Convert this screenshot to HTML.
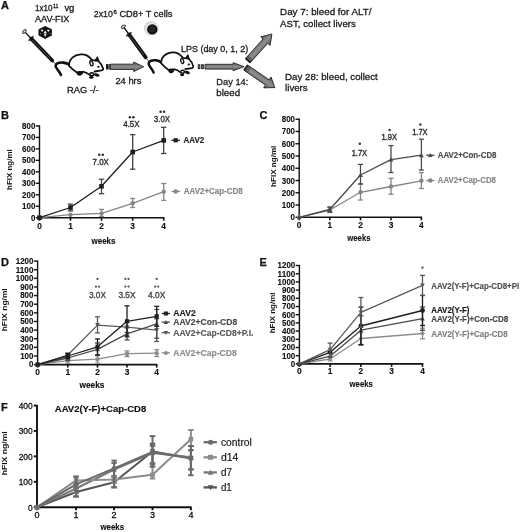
<!DOCTYPE html>
<html><head><meta charset="utf-8"><style>
html,body{margin:0;padding:0;background:#fff;}
svg{display:block;font-family:"Liberation Sans", sans-serif;will-change:transform;}
</style></head><body>
<svg width="520" height="532" viewBox="0 0 520 532">
<rect width="520" height="532" fill="#fff"/>
<text x="1.00" y="9.30" font-size="11" font-weight="bold" fill="#111" text-anchor="start" stroke="#111" stroke-width="0.25" >A</text>
<text x="1.00" y="119.00" font-size="11" font-weight="bold" fill="#111" text-anchor="start" stroke="#111" stroke-width="0.25" >B</text>
<text x="259.60" y="118.70" font-size="11" font-weight="bold" fill="#111" text-anchor="start" stroke="#111" stroke-width="0.25" >C</text>
<text x="1.00" y="266.30" font-size="11" font-weight="bold" fill="#111" text-anchor="start" stroke="#111" stroke-width="0.25" >D</text>
<text x="259.50" y="265.80" font-size="11" font-weight="bold" fill="#111" text-anchor="start" stroke="#111" stroke-width="0.25" >E</text>
<text x="1.00" y="410.50" font-size="11" font-weight="bold" fill="#111" text-anchor="start" stroke="#111" stroke-width="0.25" >F</text>
<line x1="39.50" y1="125.34" x2="39.50" y2="218.30" stroke="#111" stroke-width="1.4" />
<line x1="35.80" y1="217.70" x2="39.50" y2="217.70" stroke="#111" stroke-width="1.4" />
<text x="35.30" y="220.70" font-size="8.4" font-weight="bold" fill="#111" text-anchor="end" textLength="4.4" lengthAdjust="spacingAndGlyphs" stroke="#111" stroke-width="0.12" >0</text>
<line x1="35.80" y1="206.23" x2="39.50" y2="206.23" stroke="#111" stroke-width="1.4" />
<text x="35.30" y="209.23" font-size="8.4" font-weight="bold" fill="#111" text-anchor="end" textLength="13.2" lengthAdjust="spacingAndGlyphs" stroke="#111" stroke-width="0.12" >100</text>
<line x1="35.80" y1="194.76" x2="39.50" y2="194.76" stroke="#111" stroke-width="1.4" />
<text x="35.30" y="197.76" font-size="8.4" font-weight="bold" fill="#111" text-anchor="end" textLength="13.2" lengthAdjust="spacingAndGlyphs" stroke="#111" stroke-width="0.12" >200</text>
<line x1="35.80" y1="183.29" x2="39.50" y2="183.29" stroke="#111" stroke-width="1.4" />
<text x="35.30" y="186.29" font-size="8.4" font-weight="bold" fill="#111" text-anchor="end" textLength="13.2" lengthAdjust="spacingAndGlyphs" stroke="#111" stroke-width="0.12" >300</text>
<line x1="35.80" y1="171.82" x2="39.50" y2="171.82" stroke="#111" stroke-width="1.4" />
<text x="35.30" y="174.82" font-size="8.4" font-weight="bold" fill="#111" text-anchor="end" textLength="13.2" lengthAdjust="spacingAndGlyphs" stroke="#111" stroke-width="0.12" >400</text>
<line x1="35.80" y1="160.35" x2="39.50" y2="160.35" stroke="#111" stroke-width="1.4" />
<text x="35.30" y="163.35" font-size="8.4" font-weight="bold" fill="#111" text-anchor="end" textLength="13.2" lengthAdjust="spacingAndGlyphs" stroke="#111" stroke-width="0.12" >500</text>
<line x1="35.80" y1="148.88" x2="39.50" y2="148.88" stroke="#111" stroke-width="1.4" />
<text x="35.30" y="151.88" font-size="8.4" font-weight="bold" fill="#111" text-anchor="end" textLength="13.2" lengthAdjust="spacingAndGlyphs" stroke="#111" stroke-width="0.12" >600</text>
<line x1="35.80" y1="137.41" x2="39.50" y2="137.41" stroke="#111" stroke-width="1.4" />
<text x="35.30" y="140.41" font-size="8.4" font-weight="bold" fill="#111" text-anchor="end" textLength="13.2" lengthAdjust="spacingAndGlyphs" stroke="#111" stroke-width="0.12" >700</text>
<line x1="35.80" y1="125.94" x2="39.50" y2="125.94" stroke="#111" stroke-width="1.4" />
<text x="35.30" y="128.94" font-size="8.4" font-weight="bold" fill="#111" text-anchor="end" textLength="13.2" lengthAdjust="spacingAndGlyphs" stroke="#111" stroke-width="0.12" >800</text>
<line x1="38.80" y1="217.70" x2="164.40" y2="217.70" stroke="#111" stroke-width="1.6" />
<line x1="39.50" y1="217.70" x2="39.50" y2="220.70" stroke="#111" stroke-width="1.6" />
<text x="39.50" y="228.50" font-size="8.4" font-weight="bold" fill="#111" text-anchor="middle" stroke="#111" stroke-width="0.12" >0</text>
<line x1="70.50" y1="217.70" x2="70.50" y2="220.70" stroke="#111" stroke-width="1.6" />
<text x="70.50" y="228.50" font-size="8.4" font-weight="bold" fill="#111" text-anchor="middle" stroke="#111" stroke-width="0.12" >1</text>
<line x1="101.50" y1="217.70" x2="101.50" y2="220.70" stroke="#111" stroke-width="1.6" />
<text x="101.50" y="228.50" font-size="8.4" font-weight="bold" fill="#111" text-anchor="middle" stroke="#111" stroke-width="0.12" >2</text>
<line x1="132.70" y1="217.70" x2="132.70" y2="220.70" stroke="#111" stroke-width="1.6" />
<text x="132.70" y="228.50" font-size="8.4" font-weight="bold" fill="#111" text-anchor="middle" stroke="#111" stroke-width="0.12" >3</text>
<line x1="163.70" y1="217.70" x2="163.70" y2="220.70" stroke="#111" stroke-width="1.6" />
<text x="163.70" y="228.50" font-size="8.4" font-weight="bold" fill="#111" text-anchor="middle" stroke="#111" stroke-width="0.12" >4</text>
<text x="103.50" y="243.70" font-size="8.4" font-weight="bold" fill="#111" text-anchor="middle" textLength="24" lengthAdjust="spacingAndGlyphs" stroke="#111" stroke-width="0.12" >weeks</text>
<text x="0" y="0" font-size="7.6" font-weight="bold" fill="#111" text-anchor="middle" textLength="40.6" lengthAdjust="spacingAndGlyphs" transform="translate(11.80,169.60) rotate(-90)">hFIX ng/ml</text>
<line x1="101.50" y1="209.40" x2="101.50" y2="216.50" stroke="#858585" stroke-width="1.3" />
<line x1="99.00" y1="209.40" x2="104.00" y2="209.40" stroke="#858585" stroke-width="1.3" />
<line x1="99.00" y1="216.50" x2="104.00" y2="216.50" stroke="#858585" stroke-width="1.3" />
<line x1="132.70" y1="198.50" x2="132.70" y2="207.50" stroke="#858585" stroke-width="1.3" />
<line x1="130.20" y1="198.50" x2="135.20" y2="198.50" stroke="#858585" stroke-width="1.3" />
<line x1="130.20" y1="207.50" x2="135.20" y2="207.50" stroke="#858585" stroke-width="1.3" />
<line x1="163.70" y1="183.50" x2="163.70" y2="200.40" stroke="#858585" stroke-width="1.3" />
<line x1="161.20" y1="183.50" x2="166.20" y2="183.50" stroke="#858585" stroke-width="1.3" />
<line x1="161.20" y1="200.40" x2="166.20" y2="200.40" stroke="#858585" stroke-width="1.3" />
<polyline points="39.50,217.70 70.50,214.70 101.50,213.40 132.70,203.30 163.70,191.70" fill="none" stroke="#858585" stroke-width="1.3" stroke-linejoin="round"/>
<circle cx="39.50" cy="217.70" r="2.20" fill="#858585"/>
<circle cx="70.50" cy="214.70" r="2.20" fill="#858585"/>
<circle cx="101.50" cy="213.40" r="2.20" fill="#858585"/>
<circle cx="132.70" cy="203.30" r="2.20" fill="#858585"/>
<circle cx="163.70" cy="191.70" r="2.20" fill="#858585"/>
<line x1="70.50" y1="204.10" x2="70.50" y2="210.90" stroke="#444" stroke-width="1.3" />
<line x1="67.80" y1="204.10" x2="73.20" y2="204.10" stroke="#444" stroke-width="1.3" />
<line x1="67.80" y1="210.90" x2="73.20" y2="210.90" stroke="#444" stroke-width="1.3" />
<line x1="101.50" y1="179.20" x2="101.50" y2="193.70" stroke="#444" stroke-width="1.3" />
<line x1="98.80" y1="179.20" x2="104.20" y2="179.20" stroke="#444" stroke-width="1.3" />
<line x1="98.80" y1="193.70" x2="104.20" y2="193.70" stroke="#444" stroke-width="1.3" />
<line x1="132.70" y1="134.60" x2="132.70" y2="169.20" stroke="#444" stroke-width="1.3" />
<line x1="130.00" y1="134.60" x2="135.40" y2="134.60" stroke="#444" stroke-width="1.3" />
<line x1="130.00" y1="169.20" x2="135.40" y2="169.20" stroke="#444" stroke-width="1.3" />
<line x1="163.70" y1="127.30" x2="163.70" y2="153.50" stroke="#444" stroke-width="1.3" />
<line x1="161.00" y1="127.30" x2="166.40" y2="127.30" stroke="#444" stroke-width="1.3" />
<line x1="161.00" y1="153.50" x2="166.40" y2="153.50" stroke="#444" stroke-width="1.3" />
<polyline points="39.50,217.70 70.50,207.50 101.50,186.30 132.70,152.00 163.70,140.40" fill="none" stroke="#1e1e1e" stroke-width="1.3" stroke-linejoin="round"/>
<rect x="37.20" y="215.40" width="4.60" height="4.60" fill="#1e1e1e"/>
<rect x="68.20" y="205.20" width="4.60" height="4.60" fill="#1e1e1e"/>
<rect x="99.20" y="184.00" width="4.60" height="4.60" fill="#1e1e1e"/>
<rect x="130.40" y="149.70" width="4.60" height="4.60" fill="#1e1e1e"/>
<rect x="161.40" y="138.10" width="4.60" height="4.60" fill="#1e1e1e"/>
<circle cx="99.25" cy="154.80" r="1.25" fill="#2a2a2a"/>
<circle cx="102.75" cy="154.80" r="1.25" fill="#2a2a2a"/>
<text x="100.70" y="165.40" font-size="9" font-weight="normal" fill="#333" text-anchor="middle" textLength="16.3" lengthAdjust="spacingAndGlyphs" stroke="#333" stroke-width="0.4" >7.0X</text>
<circle cx="129.95" cy="117.30" r="1.25" fill="#2a2a2a"/>
<circle cx="133.45" cy="117.30" r="1.25" fill="#2a2a2a"/>
<text x="131.40" y="127.30" font-size="9" font-weight="normal" fill="#333" text-anchor="middle" textLength="16.3" lengthAdjust="spacingAndGlyphs" stroke="#333" stroke-width="0.4" >4.5X</text>
<circle cx="160.55" cy="111.80" r="1.25" fill="#2a2a2a"/>
<circle cx="164.05" cy="111.80" r="1.25" fill="#2a2a2a"/>
<text x="162.00" y="121.70" font-size="9" font-weight="normal" fill="#333" text-anchor="middle" textLength="16.3" lengthAdjust="spacingAndGlyphs" stroke="#333" stroke-width="0.4" >3.0X</text>
<line x1="171.50" y1="140.30" x2="180.00" y2="140.30" stroke="#1e1e1e" stroke-width="1.3" />
<rect x="173.60" y="138.20" width="4.20" height="4.20" fill="#1e1e1e"/>
<text x="183.50" y="143.20" font-size="8.8" font-weight="bold" fill="#1e1e1e" text-anchor="start" textLength="20.7" lengthAdjust="spacingAndGlyphs" stroke="#1e1e1e" stroke-width="0.15" >AAV2</text>
<line x1="171.50" y1="191.50" x2="180.00" y2="191.50" stroke="#858585" stroke-width="1.3" />
<circle cx="175.70" cy="191.50" r="2.20" fill="#858585"/>
<text x="183.80" y="194.40" font-size="8.8" font-weight="bold" fill="#858585" text-anchor="start" textLength="58.9" lengthAdjust="spacingAndGlyphs" stroke="#858585" stroke-width="0.15" >AAV2+Cap-CD8</text>
<line x1="299.20" y1="118.62" x2="299.20" y2="217.90" stroke="#111" stroke-width="1.4" />
<line x1="295.50" y1="217.30" x2="299.20" y2="217.30" stroke="#111" stroke-width="1.4" />
<text x="295.00" y="220.30" font-size="8.4" font-weight="bold" fill="#111" text-anchor="end" textLength="4.4" lengthAdjust="spacingAndGlyphs" stroke="#111" stroke-width="0.12" >0</text>
<line x1="295.50" y1="205.04" x2="299.20" y2="205.04" stroke="#111" stroke-width="1.4" />
<text x="295.00" y="208.04" font-size="8.4" font-weight="bold" fill="#111" text-anchor="end" textLength="13.2" lengthAdjust="spacingAndGlyphs" stroke="#111" stroke-width="0.12" >100</text>
<line x1="295.50" y1="192.78" x2="299.20" y2="192.78" stroke="#111" stroke-width="1.4" />
<text x="295.00" y="195.78" font-size="8.4" font-weight="bold" fill="#111" text-anchor="end" textLength="13.2" lengthAdjust="spacingAndGlyphs" stroke="#111" stroke-width="0.12" >200</text>
<line x1="295.50" y1="180.52" x2="299.20" y2="180.52" stroke="#111" stroke-width="1.4" />
<text x="295.00" y="183.52" font-size="8.4" font-weight="bold" fill="#111" text-anchor="end" textLength="13.2" lengthAdjust="spacingAndGlyphs" stroke="#111" stroke-width="0.12" >300</text>
<line x1="295.50" y1="168.26" x2="299.20" y2="168.26" stroke="#111" stroke-width="1.4" />
<text x="295.00" y="171.26" font-size="8.4" font-weight="bold" fill="#111" text-anchor="end" textLength="13.2" lengthAdjust="spacingAndGlyphs" stroke="#111" stroke-width="0.12" >400</text>
<line x1="295.50" y1="156.00" x2="299.20" y2="156.00" stroke="#111" stroke-width="1.4" />
<text x="295.00" y="159.00" font-size="8.4" font-weight="bold" fill="#111" text-anchor="end" textLength="13.2" lengthAdjust="spacingAndGlyphs" stroke="#111" stroke-width="0.12" >500</text>
<line x1="295.50" y1="143.74" x2="299.20" y2="143.74" stroke="#111" stroke-width="1.4" />
<text x="295.00" y="146.74" font-size="8.4" font-weight="bold" fill="#111" text-anchor="end" textLength="13.2" lengthAdjust="spacingAndGlyphs" stroke="#111" stroke-width="0.12" >600</text>
<line x1="295.50" y1="131.48" x2="299.20" y2="131.48" stroke="#111" stroke-width="1.4" />
<text x="295.00" y="134.48" font-size="8.4" font-weight="bold" fill="#111" text-anchor="end" textLength="13.2" lengthAdjust="spacingAndGlyphs" stroke="#111" stroke-width="0.12" >700</text>
<line x1="295.50" y1="119.22" x2="299.20" y2="119.22" stroke="#111" stroke-width="1.4" />
<text x="295.00" y="122.22" font-size="8.4" font-weight="bold" fill="#111" text-anchor="end" textLength="13.2" lengthAdjust="spacingAndGlyphs" stroke="#111" stroke-width="0.12" >800</text>
<line x1="298.50" y1="217.30" x2="422.10" y2="217.30" stroke="#111" stroke-width="1.6" />
<line x1="299.20" y1="217.30" x2="299.20" y2="220.30" stroke="#111" stroke-width="1.6" />
<text x="299.20" y="228.10" font-size="8.4" font-weight="bold" fill="#111" text-anchor="middle" stroke="#111" stroke-width="0.12" >0</text>
<line x1="329.80" y1="217.30" x2="329.80" y2="220.30" stroke="#111" stroke-width="1.6" />
<text x="329.80" y="228.10" font-size="8.4" font-weight="bold" fill="#111" text-anchor="middle" stroke="#111" stroke-width="0.12" >1</text>
<line x1="360.50" y1="217.30" x2="360.50" y2="220.30" stroke="#111" stroke-width="1.6" />
<text x="360.50" y="228.10" font-size="8.4" font-weight="bold" fill="#111" text-anchor="middle" stroke="#111" stroke-width="0.12" >2</text>
<line x1="391.00" y1="217.30" x2="391.00" y2="220.30" stroke="#111" stroke-width="1.6" />
<text x="391.00" y="228.10" font-size="8.4" font-weight="bold" fill="#111" text-anchor="middle" stroke="#111" stroke-width="0.12" >3</text>
<line x1="421.40" y1="217.30" x2="421.40" y2="220.30" stroke="#111" stroke-width="1.6" />
<text x="421.40" y="228.10" font-size="8.4" font-weight="bold" fill="#111" text-anchor="middle" stroke="#111" stroke-width="0.12" >4</text>
<text x="358.90" y="241.20" font-size="8.4" font-weight="bold" fill="#111" text-anchor="middle" textLength="23.1" lengthAdjust="spacingAndGlyphs" stroke="#111" stroke-width="0.12" >weeks</text>
<text x="0" y="0" font-size="7.6" font-weight="bold" fill="#111" text-anchor="middle" textLength="41.2" lengthAdjust="spacingAndGlyphs" transform="translate(275.80,166.30) rotate(-90)">hFIX ng/ml</text>
<line x1="329.80" y1="207.50" x2="329.80" y2="212.50" stroke="#858585" stroke-width="1.3" />
<line x1="327.30" y1="207.50" x2="332.30" y2="207.50" stroke="#858585" stroke-width="1.3" />
<line x1="327.30" y1="212.50" x2="332.30" y2="212.50" stroke="#858585" stroke-width="1.3" />
<line x1="360.50" y1="184.00" x2="360.50" y2="200.00" stroke="#858585" stroke-width="1.3" />
<line x1="358.00" y1="184.00" x2="363.00" y2="184.00" stroke="#858585" stroke-width="1.3" />
<line x1="358.00" y1="200.00" x2="363.00" y2="200.00" stroke="#858585" stroke-width="1.3" />
<line x1="391.00" y1="178.30" x2="391.00" y2="194.20" stroke="#858585" stroke-width="1.3" />
<line x1="388.50" y1="178.30" x2="393.50" y2="178.30" stroke="#858585" stroke-width="1.3" />
<line x1="388.50" y1="194.20" x2="393.50" y2="194.20" stroke="#858585" stroke-width="1.3" />
<line x1="421.40" y1="172.50" x2="421.40" y2="188.50" stroke="#858585" stroke-width="1.3" />
<line x1="418.90" y1="172.50" x2="423.90" y2="172.50" stroke="#858585" stroke-width="1.3" />
<line x1="418.90" y1="188.50" x2="423.90" y2="188.50" stroke="#858585" stroke-width="1.3" />
<polyline points="299.20,217.30 329.80,210.00 360.50,192.30 391.00,186.50 421.40,180.80" fill="none" stroke="#858585" stroke-width="1.3" stroke-linejoin="round"/>
<circle cx="299.20" cy="217.30" r="2.20" fill="#858585"/>
<circle cx="329.80" cy="210.00" r="2.20" fill="#858585"/>
<circle cx="360.50" cy="192.30" r="2.20" fill="#858585"/>
<circle cx="391.00" cy="186.50" r="2.20" fill="#858585"/>
<circle cx="421.40" cy="180.80" r="2.20" fill="#858585"/>
<line x1="329.80" y1="207.00" x2="329.80" y2="212.00" stroke="#4a4a4a" stroke-width="1.3" />
<line x1="327.30" y1="207.00" x2="332.30" y2="207.00" stroke="#4a4a4a" stroke-width="1.3" />
<line x1="327.30" y1="212.00" x2="332.30" y2="212.00" stroke="#4a4a4a" stroke-width="1.3" />
<line x1="360.50" y1="164.40" x2="360.50" y2="184.00" stroke="#4a4a4a" stroke-width="1.3" />
<line x1="358.00" y1="164.40" x2="363.00" y2="164.40" stroke="#4a4a4a" stroke-width="1.3" />
<line x1="358.00" y1="184.00" x2="363.00" y2="184.00" stroke="#4a4a4a" stroke-width="1.3" />
<line x1="391.00" y1="145.60" x2="391.00" y2="172.50" stroke="#4a4a4a" stroke-width="1.3" />
<line x1="388.50" y1="145.60" x2="393.50" y2="145.60" stroke="#4a4a4a" stroke-width="1.3" />
<line x1="388.50" y1="172.50" x2="393.50" y2="172.50" stroke="#4a4a4a" stroke-width="1.3" />
<line x1="421.40" y1="139.20" x2="421.40" y2="170.00" stroke="#4a4a4a" stroke-width="1.3" />
<line x1="418.90" y1="139.20" x2="423.90" y2="139.20" stroke="#4a4a4a" stroke-width="1.3" />
<line x1="418.90" y1="170.00" x2="423.90" y2="170.00" stroke="#4a4a4a" stroke-width="1.3" />
<polyline points="299.20,217.30 329.80,209.50 360.50,175.00 391.00,159.60 421.40,155.20" fill="none" stroke="#4a4a4a" stroke-width="1.3" stroke-linejoin="round"/>
<polygon points="299.20,214.88 301.62,219.28 296.78,219.28" fill="#4a4a4a"/>
<polygon points="329.80,207.08 332.22,211.48 327.38,211.48" fill="#4a4a4a"/>
<polygon points="360.50,172.58 362.92,176.98 358.08,176.98" fill="#4a4a4a"/>
<polygon points="391.00,157.18 393.42,161.58 388.58,161.58" fill="#4a4a4a"/>
<polygon points="421.40,152.78 423.82,157.18 418.98,157.18" fill="#4a4a4a"/>
<circle cx="359.80" cy="143.80" r="1.25" fill="#3a3a3a"/>
<text x="359.40" y="156.40" font-size="9" font-weight="normal" fill="#333" text-anchor="middle" textLength="15.5" lengthAdjust="spacingAndGlyphs" stroke="#333" stroke-width="0.4" >1.7X</text>
<circle cx="389.60" cy="129.90" r="1.25" fill="#3a3a3a"/>
<text x="389.20" y="140.30" font-size="9" font-weight="normal" fill="#333" text-anchor="middle" textLength="15.5" lengthAdjust="spacingAndGlyphs" stroke="#333" stroke-width="0.4" >1.9X</text>
<circle cx="420.30" cy="124.40" r="1.25" fill="#3a3a3a"/>
<text x="419.90" y="135.10" font-size="9" font-weight="normal" fill="#333" text-anchor="middle" textLength="15.5" lengthAdjust="spacingAndGlyphs" stroke="#333" stroke-width="0.4" >1.7X</text>
<line x1="426.20" y1="155.20" x2="434.40" y2="155.20" stroke="#4a4a4a" stroke-width="1.3" />
<polygon points="430.30,152.89 432.61,157.09 427.99,157.09" fill="#4a4a4a"/>
<text x="437.70" y="158.00" font-size="8.8" font-weight="bold" fill="#4a4a4a" text-anchor="start" textLength="58.8" lengthAdjust="spacingAndGlyphs" stroke="#4a4a4a" stroke-width="0.15" >AAV2+Con-CD8</text>
<line x1="426.20" y1="180.50" x2="434.40" y2="180.50" stroke="#858585" stroke-width="1.3" />
<circle cx="430.30" cy="180.50" r="2.20" fill="#858585"/>
<text x="437.70" y="183.30" font-size="8.8" font-weight="bold" fill="#858585" text-anchor="start" textLength="58.3" lengthAdjust="spacingAndGlyphs" stroke="#858585" stroke-width="0.15" >AAV2+Cap-CD8</text>
<line x1="37.60" y1="260.50" x2="37.60" y2="365.20" stroke="#111" stroke-width="1.4" />
<line x1="33.90" y1="364.60" x2="37.60" y2="364.60" stroke="#111" stroke-width="1.4" />
<text x="33.40" y="367.40" font-size="8.4" font-weight="bold" fill="#111" text-anchor="end" textLength="4.4" lengthAdjust="spacingAndGlyphs" stroke="#111" stroke-width="0.12" >0</text>
<line x1="33.90" y1="355.98" x2="37.60" y2="355.98" stroke="#111" stroke-width="1.4" />
<text x="33.40" y="358.78" font-size="8.4" font-weight="bold" fill="#111" text-anchor="end" textLength="13.2" lengthAdjust="spacingAndGlyphs" stroke="#111" stroke-width="0.12" >100</text>
<line x1="33.90" y1="347.35" x2="37.60" y2="347.35" stroke="#111" stroke-width="1.4" />
<text x="33.40" y="350.15" font-size="8.4" font-weight="bold" fill="#111" text-anchor="end" textLength="13.2" lengthAdjust="spacingAndGlyphs" stroke="#111" stroke-width="0.12" >200</text>
<line x1="33.90" y1="338.73" x2="37.60" y2="338.73" stroke="#111" stroke-width="1.4" />
<text x="33.40" y="341.53" font-size="8.4" font-weight="bold" fill="#111" text-anchor="end" textLength="13.2" lengthAdjust="spacingAndGlyphs" stroke="#111" stroke-width="0.12" >300</text>
<line x1="33.90" y1="330.10" x2="37.60" y2="330.10" stroke="#111" stroke-width="1.4" />
<text x="33.40" y="332.90" font-size="8.4" font-weight="bold" fill="#111" text-anchor="end" textLength="13.2" lengthAdjust="spacingAndGlyphs" stroke="#111" stroke-width="0.12" >400</text>
<line x1="33.90" y1="321.48" x2="37.60" y2="321.48" stroke="#111" stroke-width="1.4" />
<text x="33.40" y="324.28" font-size="8.4" font-weight="bold" fill="#111" text-anchor="end" textLength="13.2" lengthAdjust="spacingAndGlyphs" stroke="#111" stroke-width="0.12" >500</text>
<line x1="33.90" y1="312.85" x2="37.60" y2="312.85" stroke="#111" stroke-width="1.4" />
<text x="33.40" y="315.65" font-size="8.4" font-weight="bold" fill="#111" text-anchor="end" textLength="13.2" lengthAdjust="spacingAndGlyphs" stroke="#111" stroke-width="0.12" >600</text>
<line x1="33.90" y1="304.23" x2="37.60" y2="304.23" stroke="#111" stroke-width="1.4" />
<text x="33.40" y="307.03" font-size="8.4" font-weight="bold" fill="#111" text-anchor="end" textLength="13.2" lengthAdjust="spacingAndGlyphs" stroke="#111" stroke-width="0.12" >700</text>
<line x1="33.90" y1="295.60" x2="37.60" y2="295.60" stroke="#111" stroke-width="1.4" />
<text x="33.40" y="298.40" font-size="8.4" font-weight="bold" fill="#111" text-anchor="end" textLength="13.2" lengthAdjust="spacingAndGlyphs" stroke="#111" stroke-width="0.12" >800</text>
<line x1="33.90" y1="286.98" x2="37.60" y2="286.98" stroke="#111" stroke-width="1.4" />
<text x="33.40" y="289.78" font-size="8.4" font-weight="bold" fill="#111" text-anchor="end" textLength="13.2" lengthAdjust="spacingAndGlyphs" stroke="#111" stroke-width="0.12" >900</text>
<line x1="33.90" y1="278.35" x2="37.60" y2="278.35" stroke="#111" stroke-width="1.4" />
<text x="33.40" y="281.15" font-size="8.4" font-weight="bold" fill="#111" text-anchor="end" textLength="17.6" lengthAdjust="spacingAndGlyphs" stroke="#111" stroke-width="0.12" >1000</text>
<line x1="33.90" y1="269.73" x2="37.60" y2="269.73" stroke="#111" stroke-width="1.4" />
<text x="33.40" y="272.53" font-size="8.4" font-weight="bold" fill="#111" text-anchor="end" textLength="17.6" lengthAdjust="spacingAndGlyphs" stroke="#111" stroke-width="0.12" >1100</text>
<line x1="33.90" y1="261.10" x2="37.60" y2="261.10" stroke="#111" stroke-width="1.4" />
<text x="33.40" y="263.90" font-size="8.4" font-weight="bold" fill="#111" text-anchor="end" textLength="17.6" lengthAdjust="spacingAndGlyphs" stroke="#111" stroke-width="0.12" >1200</text>
<line x1="36.90" y1="364.60" x2="157.40" y2="364.60" stroke="#111" stroke-width="1.6" />
<line x1="37.60" y1="364.60" x2="37.60" y2="367.60" stroke="#111" stroke-width="1.6" />
<text x="37.60" y="375.40" font-size="8.4" font-weight="bold" fill="#111" text-anchor="middle" stroke="#111" stroke-width="0.12" >0</text>
<line x1="67.80" y1="364.60" x2="67.80" y2="367.60" stroke="#111" stroke-width="1.6" />
<text x="67.80" y="375.40" font-size="8.4" font-weight="bold" fill="#111" text-anchor="middle" stroke="#111" stroke-width="0.12" >1</text>
<line x1="97.50" y1="364.60" x2="97.50" y2="367.60" stroke="#111" stroke-width="1.6" />
<text x="97.50" y="375.40" font-size="8.4" font-weight="bold" fill="#111" text-anchor="middle" stroke="#111" stroke-width="0.12" >2</text>
<line x1="127.00" y1="364.60" x2="127.00" y2="367.60" stroke="#111" stroke-width="1.6" />
<text x="127.00" y="375.40" font-size="8.4" font-weight="bold" fill="#111" text-anchor="middle" stroke="#111" stroke-width="0.12" >3</text>
<line x1="156.70" y1="364.60" x2="156.70" y2="367.60" stroke="#111" stroke-width="1.6" />
<text x="156.70" y="375.40" font-size="8.4" font-weight="bold" fill="#111" text-anchor="middle" stroke="#111" stroke-width="0.12" >4</text>
<text x="92.00" y="388.40" font-size="8.4" font-weight="bold" fill="#111" text-anchor="middle" textLength="25" lengthAdjust="spacingAndGlyphs" stroke="#111" stroke-width="0.12" >weeks</text>
<text x="0" y="0" font-size="7.6" font-weight="bold" fill="#111" text-anchor="middle" textLength="43.0" lengthAdjust="spacingAndGlyphs" transform="translate(7.00,309.80) rotate(-90)">hFIX ng/ml</text>
<line x1="67.80" y1="358.00" x2="67.80" y2="363.20" stroke="#8c8c8c" stroke-width="1.3" />
<line x1="65.30" y1="358.00" x2="70.30" y2="358.00" stroke="#8c8c8c" stroke-width="1.3" />
<line x1="65.30" y1="363.20" x2="70.30" y2="363.20" stroke="#8c8c8c" stroke-width="1.3" />
<line x1="97.50" y1="355.20" x2="97.50" y2="363.20" stroke="#8c8c8c" stroke-width="1.3" />
<line x1="95.00" y1="355.20" x2="100.00" y2="355.20" stroke="#8c8c8c" stroke-width="1.3" />
<line x1="95.00" y1="363.20" x2="100.00" y2="363.20" stroke="#8c8c8c" stroke-width="1.3" />
<line x1="127.00" y1="350.90" x2="127.00" y2="356.60" stroke="#8c8c8c" stroke-width="1.3" />
<line x1="124.50" y1="350.90" x2="129.50" y2="350.90" stroke="#8c8c8c" stroke-width="1.3" />
<line x1="124.50" y1="356.60" x2="129.50" y2="356.60" stroke="#8c8c8c" stroke-width="1.3" />
<line x1="156.70" y1="349.60" x2="156.70" y2="356.60" stroke="#8c8c8c" stroke-width="1.3" />
<line x1="154.20" y1="349.60" x2="159.20" y2="349.60" stroke="#8c8c8c" stroke-width="1.3" />
<line x1="154.20" y1="356.60" x2="159.20" y2="356.60" stroke="#8c8c8c" stroke-width="1.3" />
<polyline points="37.60,364.60 67.80,360.60 97.50,359.20 127.00,353.70 156.70,353.20" fill="none" stroke="#8c8c8c" stroke-width="1.3" stroke-linejoin="round"/>
<circle cx="37.60" cy="364.60" r="2.20" fill="#8c8c8c"/>
<circle cx="67.80" cy="360.60" r="2.20" fill="#8c8c8c"/>
<circle cx="97.50" cy="359.20" r="2.20" fill="#8c8c8c"/>
<circle cx="127.00" cy="353.70" r="2.20" fill="#8c8c8c"/>
<circle cx="156.70" cy="353.20" r="2.20" fill="#8c8c8c"/>
<line x1="67.80" y1="353.10" x2="67.80" y2="357.00" stroke="#5a5a5a" stroke-width="1.3" />
<line x1="65.30" y1="353.10" x2="70.30" y2="353.10" stroke="#5a5a5a" stroke-width="1.3" />
<line x1="65.30" y1="357.00" x2="70.30" y2="357.00" stroke="#5a5a5a" stroke-width="1.3" />
<line x1="97.50" y1="316.80" x2="97.50" y2="332.90" stroke="#5a5a5a" stroke-width="1.3" />
<line x1="95.00" y1="316.80" x2="100.00" y2="316.80" stroke="#5a5a5a" stroke-width="1.3" />
<line x1="95.00" y1="332.90" x2="100.00" y2="332.90" stroke="#5a5a5a" stroke-width="1.3" />
<line x1="127.00" y1="322.00" x2="127.00" y2="332.40" stroke="#5a5a5a" stroke-width="1.3" />
<line x1="124.50" y1="322.00" x2="129.50" y2="322.00" stroke="#5a5a5a" stroke-width="1.3" />
<line x1="124.50" y1="332.40" x2="129.50" y2="332.40" stroke="#5a5a5a" stroke-width="1.3" />
<line x1="156.70" y1="318.70" x2="156.70" y2="341.50" stroke="#5a5a5a" stroke-width="1.3" />
<line x1="154.20" y1="318.70" x2="159.20" y2="318.70" stroke="#5a5a5a" stroke-width="1.3" />
<line x1="154.20" y1="341.50" x2="159.20" y2="341.50" stroke="#5a5a5a" stroke-width="1.3" />
<polyline points="37.60,364.60 67.80,355.00 97.50,325.10 127.00,327.20 156.70,330.10" fill="none" stroke="#5a5a5a" stroke-width="1.3" stroke-linejoin="round"/>
<polygon points="37.60,367.02 40.02,362.62 35.18,362.62" fill="#5a5a5a"/>
<polygon points="67.80,357.42 70.22,353.02 65.38,353.02" fill="#5a5a5a"/>
<polygon points="97.50,327.52 99.92,323.12 95.08,323.12" fill="#5a5a5a"/>
<polygon points="127.00,329.62 129.42,325.22 124.58,325.22" fill="#5a5a5a"/>
<polygon points="156.70,332.52 159.12,328.12 154.28,328.12" fill="#5a5a5a"/>
<line x1="67.80" y1="355.50" x2="67.80" y2="360.50" stroke="#4a4a4a" stroke-width="1.3" />
<line x1="65.30" y1="355.50" x2="70.30" y2="355.50" stroke="#4a4a4a" stroke-width="1.3" />
<line x1="65.30" y1="360.50" x2="70.30" y2="360.50" stroke="#4a4a4a" stroke-width="1.3" />
<line x1="97.50" y1="343.00" x2="97.50" y2="355.50" stroke="#4a4a4a" stroke-width="1.3" />
<line x1="95.00" y1="343.00" x2="100.00" y2="343.00" stroke="#4a4a4a" stroke-width="1.3" />
<line x1="95.00" y1="355.50" x2="100.00" y2="355.50" stroke="#4a4a4a" stroke-width="1.3" />
<line x1="127.00" y1="327.90" x2="127.00" y2="339.90" stroke="#4a4a4a" stroke-width="1.3" />
<line x1="124.50" y1="327.90" x2="129.50" y2="327.90" stroke="#4a4a4a" stroke-width="1.3" />
<line x1="124.50" y1="339.90" x2="129.50" y2="339.90" stroke="#4a4a4a" stroke-width="1.3" />
<line x1="156.70" y1="309.40" x2="156.70" y2="338.20" stroke="#4a4a4a" stroke-width="1.3" />
<line x1="154.20" y1="309.40" x2="159.20" y2="309.40" stroke="#4a4a4a" stroke-width="1.3" />
<line x1="154.20" y1="338.20" x2="159.20" y2="338.20" stroke="#4a4a4a" stroke-width="1.3" />
<polyline points="37.60,364.60 67.80,358.00 97.50,349.30 127.00,333.90 156.70,323.80" fill="none" stroke="#4a4a4a" stroke-width="1.3" stroke-linejoin="round"/>
<polygon points="37.60,362.18 40.02,366.58 35.18,366.58" fill="#4a4a4a"/>
<polygon points="67.80,355.58 70.22,359.98 65.38,359.98" fill="#4a4a4a"/>
<polygon points="97.50,346.88 99.92,351.28 95.08,351.28" fill="#4a4a4a"/>
<polygon points="127.00,331.48 129.42,335.88 124.58,335.88" fill="#4a4a4a"/>
<polygon points="156.70,321.38 159.12,325.78 154.28,325.78" fill="#4a4a4a"/>
<line x1="67.80" y1="353.50" x2="67.80" y2="358.50" stroke="#1e1e1e" stroke-width="1.3" />
<line x1="65.30" y1="353.50" x2="70.30" y2="353.50" stroke="#1e1e1e" stroke-width="1.3" />
<line x1="65.30" y1="358.50" x2="70.30" y2="358.50" stroke="#1e1e1e" stroke-width="1.3" />
<line x1="97.50" y1="338.90" x2="97.50" y2="355.00" stroke="#1e1e1e" stroke-width="1.3" />
<line x1="95.00" y1="338.90" x2="100.00" y2="338.90" stroke="#1e1e1e" stroke-width="1.3" />
<line x1="95.00" y1="355.00" x2="100.00" y2="355.00" stroke="#1e1e1e" stroke-width="1.3" />
<line x1="127.00" y1="305.80" x2="127.00" y2="336.80" stroke="#1e1e1e" stroke-width="1.3" />
<line x1="124.50" y1="305.80" x2="129.50" y2="305.80" stroke="#1e1e1e" stroke-width="1.3" />
<line x1="124.50" y1="336.80" x2="129.50" y2="336.80" stroke="#1e1e1e" stroke-width="1.3" />
<line x1="156.70" y1="306.30" x2="156.70" y2="326.30" stroke="#1e1e1e" stroke-width="1.3" />
<line x1="154.20" y1="306.30" x2="159.20" y2="306.30" stroke="#1e1e1e" stroke-width="1.3" />
<line x1="154.20" y1="326.30" x2="159.20" y2="326.30" stroke="#1e1e1e" stroke-width="1.3" />
<polyline points="37.60,364.60 67.80,356.00 97.50,346.80 127.00,321.30 156.70,316.30" fill="none" stroke="#1e1e1e" stroke-width="1.3" stroke-linejoin="round"/>
<rect x="35.50" y="362.50" width="4.20" height="4.20" fill="#1e1e1e"/>
<rect x="65.70" y="353.90" width="4.20" height="4.20" fill="#1e1e1e"/>
<rect x="95.40" y="344.70" width="4.20" height="4.20" fill="#1e1e1e"/>
<rect x="124.90" y="319.20" width="4.20" height="4.20" fill="#1e1e1e"/>
<rect x="154.60" y="314.20" width="4.20" height="4.20" fill="#1e1e1e"/>
<circle cx="97.50" cy="278.90" r="1.05" fill="#4a4a4a"/>
<circle cx="95.95" cy="286.60" r="1.05" fill="#4a4a4a"/>
<circle cx="99.05" cy="286.60" r="1.05" fill="#4a4a4a"/>
<text x="97.50" y="298.00" font-size="9" font-weight="normal" fill="#444" text-anchor="middle" textLength="17.2" lengthAdjust="spacingAndGlyphs" stroke="#444" stroke-width="0.35" >3.0X</text>
<circle cx="125.45" cy="278.90" r="1.05" fill="#4a4a4a"/>
<circle cx="128.55" cy="278.90" r="1.05" fill="#4a4a4a"/>
<circle cx="125.45" cy="286.60" r="1.05" fill="#4a4a4a"/>
<circle cx="128.55" cy="286.60" r="1.05" fill="#4a4a4a"/>
<text x="127.00" y="298.00" font-size="9" font-weight="normal" fill="#444" text-anchor="middle" textLength="17.2" lengthAdjust="spacingAndGlyphs" stroke="#444" stroke-width="0.35" >3.5X</text>
<circle cx="156.70" cy="278.90" r="1.05" fill="#4a4a4a"/>
<circle cx="155.15" cy="286.60" r="1.05" fill="#4a4a4a"/>
<circle cx="158.25" cy="286.60" r="1.05" fill="#4a4a4a"/>
<text x="156.70" y="298.00" font-size="9" font-weight="normal" fill="#444" text-anchor="middle" textLength="17.2" lengthAdjust="spacingAndGlyphs" stroke="#444" stroke-width="0.35" >4.0X</text>
<line x1="161.70" y1="313.50" x2="170.00" y2="313.50" stroke="#1e1e1e" stroke-width="1.3" />
<rect x="163.90" y="311.50" width="4.00" height="4.00" fill="#1e1e1e"/>
<text x="173.30" y="315.90" font-size="9.2" font-weight="bold" fill="#1e1e1e" text-anchor="start" textLength="22.5" lengthAdjust="spacingAndGlyphs" stroke="#1e1e1e" stroke-width="0.15" >AAV2</text>
<line x1="161.70" y1="322.10" x2="170.00" y2="322.10" stroke="#4a4a4a" stroke-width="1.3" />
<polygon points="165.90,319.90 168.10,323.90 163.70,323.90" fill="#4a4a4a"/>
<text x="173.30" y="325.30" font-size="9.2" font-weight="bold" fill="#4a4a4a" text-anchor="start" textLength="64" lengthAdjust="spacingAndGlyphs" stroke="#4a4a4a" stroke-width="0.15" >AAV2+Con-CD8</text>
<line x1="161.70" y1="332.70" x2="170.00" y2="332.70" stroke="#5a5a5a" stroke-width="1.3" />
<polygon points="165.90,334.90 168.10,330.90 163.70,330.90" fill="#5a5a5a"/>
<text x="173.30" y="335.50" font-size="9.2" font-weight="bold" fill="#5a5a5a" text-anchor="start" textLength="80.2" lengthAdjust="spacingAndGlyphs" stroke="#5a5a5a" stroke-width="0.15" >AAV2+Cap-CD8+P.I.</text>
<line x1="161.70" y1="352.90" x2="170.00" y2="352.90" stroke="#8c8c8c" stroke-width="1.3" />
<circle cx="165.90" cy="352.90" r="2.00" fill="#8c8c8c"/>
<text x="173.30" y="356.10" font-size="9.2" font-weight="bold" fill="#8c8c8c" text-anchor="start" textLength="63.5" lengthAdjust="spacingAndGlyphs" stroke="#8c8c8c" stroke-width="0.15" >AAV2+Cap-CD8</text>
<line x1="299.40" y1="264.90" x2="299.40" y2="364.50" stroke="#111" stroke-width="1.4" />
<line x1="295.70" y1="363.90" x2="299.40" y2="363.90" stroke="#111" stroke-width="1.4" />
<text x="295.20" y="366.70" font-size="8.4" font-weight="bold" fill="#111" text-anchor="end" textLength="4.4" lengthAdjust="spacingAndGlyphs" stroke="#111" stroke-width="0.12" >0</text>
<line x1="295.70" y1="355.70" x2="299.40" y2="355.70" stroke="#111" stroke-width="1.4" />
<text x="295.20" y="358.50" font-size="8.4" font-weight="bold" fill="#111" text-anchor="end" textLength="13.2" lengthAdjust="spacingAndGlyphs" stroke="#111" stroke-width="0.12" >100</text>
<line x1="295.70" y1="347.50" x2="299.40" y2="347.50" stroke="#111" stroke-width="1.4" />
<text x="295.20" y="350.30" font-size="8.4" font-weight="bold" fill="#111" text-anchor="end" textLength="13.2" lengthAdjust="spacingAndGlyphs" stroke="#111" stroke-width="0.12" >200</text>
<line x1="295.70" y1="339.30" x2="299.40" y2="339.30" stroke="#111" stroke-width="1.4" />
<text x="295.20" y="342.10" font-size="8.4" font-weight="bold" fill="#111" text-anchor="end" textLength="13.2" lengthAdjust="spacingAndGlyphs" stroke="#111" stroke-width="0.12" >300</text>
<line x1="295.70" y1="331.10" x2="299.40" y2="331.10" stroke="#111" stroke-width="1.4" />
<text x="295.20" y="333.90" font-size="8.4" font-weight="bold" fill="#111" text-anchor="end" textLength="13.2" lengthAdjust="spacingAndGlyphs" stroke="#111" stroke-width="0.12" >400</text>
<line x1="295.70" y1="322.90" x2="299.40" y2="322.90" stroke="#111" stroke-width="1.4" />
<text x="295.20" y="325.70" font-size="8.4" font-weight="bold" fill="#111" text-anchor="end" textLength="13.2" lengthAdjust="spacingAndGlyphs" stroke="#111" stroke-width="0.12" >500</text>
<line x1="295.70" y1="314.70" x2="299.40" y2="314.70" stroke="#111" stroke-width="1.4" />
<text x="295.20" y="317.50" font-size="8.4" font-weight="bold" fill="#111" text-anchor="end" textLength="13.2" lengthAdjust="spacingAndGlyphs" stroke="#111" stroke-width="0.12" >600</text>
<line x1="295.70" y1="306.50" x2="299.40" y2="306.50" stroke="#111" stroke-width="1.4" />
<text x="295.20" y="309.30" font-size="8.4" font-weight="bold" fill="#111" text-anchor="end" textLength="13.2" lengthAdjust="spacingAndGlyphs" stroke="#111" stroke-width="0.12" >700</text>
<line x1="295.70" y1="298.30" x2="299.40" y2="298.30" stroke="#111" stroke-width="1.4" />
<text x="295.20" y="301.10" font-size="8.4" font-weight="bold" fill="#111" text-anchor="end" textLength="13.2" lengthAdjust="spacingAndGlyphs" stroke="#111" stroke-width="0.12" >800</text>
<line x1="295.70" y1="290.10" x2="299.40" y2="290.10" stroke="#111" stroke-width="1.4" />
<text x="295.20" y="292.90" font-size="8.4" font-weight="bold" fill="#111" text-anchor="end" textLength="13.2" lengthAdjust="spacingAndGlyphs" stroke="#111" stroke-width="0.12" >900</text>
<line x1="295.70" y1="281.90" x2="299.40" y2="281.90" stroke="#111" stroke-width="1.4" />
<text x="295.20" y="284.70" font-size="8.4" font-weight="bold" fill="#111" text-anchor="end" textLength="17.6" lengthAdjust="spacingAndGlyphs" stroke="#111" stroke-width="0.12" >1000</text>
<line x1="295.70" y1="273.70" x2="299.40" y2="273.70" stroke="#111" stroke-width="1.4" />
<text x="295.20" y="276.50" font-size="8.4" font-weight="bold" fill="#111" text-anchor="end" textLength="17.6" lengthAdjust="spacingAndGlyphs" stroke="#111" stroke-width="0.12" >1100</text>
<line x1="295.70" y1="265.50" x2="299.40" y2="265.50" stroke="#111" stroke-width="1.4" />
<text x="295.20" y="268.30" font-size="8.4" font-weight="bold" fill="#111" text-anchor="end" textLength="17.6" lengthAdjust="spacingAndGlyphs" stroke="#111" stroke-width="0.12" >1200</text>
<line x1="298.70" y1="363.90" x2="423.20" y2="363.90" stroke="#111" stroke-width="1.6" />
<line x1="299.40" y1="363.90" x2="299.40" y2="366.90" stroke="#111" stroke-width="1.6" />
<text x="299.40" y="373.80" font-size="8.4" font-weight="bold" fill="#111" text-anchor="middle" stroke="#111" stroke-width="0.12" >0</text>
<line x1="330.10" y1="363.90" x2="330.10" y2="366.90" stroke="#111" stroke-width="1.6" />
<text x="330.10" y="373.80" font-size="8.4" font-weight="bold" fill="#111" text-anchor="middle" stroke="#111" stroke-width="0.12" >1</text>
<line x1="360.90" y1="363.90" x2="360.90" y2="366.90" stroke="#111" stroke-width="1.6" />
<text x="360.90" y="373.80" font-size="8.4" font-weight="bold" fill="#111" text-anchor="middle" stroke="#111" stroke-width="0.12" >2</text>
<line x1="391.60" y1="363.90" x2="391.60" y2="366.90" stroke="#111" stroke-width="1.6" />
<text x="391.60" y="373.80" font-size="8.4" font-weight="bold" fill="#111" text-anchor="middle" stroke="#111" stroke-width="0.12" >3</text>
<line x1="422.50" y1="363.90" x2="422.50" y2="366.90" stroke="#111" stroke-width="1.6" />
<text x="422.50" y="373.80" font-size="8.4" font-weight="bold" fill="#111" text-anchor="middle" stroke="#111" stroke-width="0.12" >4</text>
<text x="361.20" y="387.40" font-size="8.4" font-weight="bold" fill="#111" text-anchor="middle" textLength="23.3" lengthAdjust="spacingAndGlyphs" stroke="#111" stroke-width="0.12" >weeks</text>
<text x="0" y="0" font-size="7.6" font-weight="bold" fill="#111" text-anchor="middle" textLength="40.8" lengthAdjust="spacingAndGlyphs" transform="translate(275.00,312.90) rotate(-90)">hFIX ng/ml</text>
<line x1="330.10" y1="357.00" x2="330.10" y2="361.00" stroke="#8c8c8c" stroke-width="1.3" />
<line x1="327.60" y1="357.00" x2="332.60" y2="357.00" stroke="#8c8c8c" stroke-width="1.3" />
<line x1="327.60" y1="361.00" x2="332.60" y2="361.00" stroke="#8c8c8c" stroke-width="1.3" />
<line x1="360.90" y1="332.50" x2="360.90" y2="344.50" stroke="#8c8c8c" stroke-width="1.3" />
<line x1="358.40" y1="332.50" x2="363.40" y2="332.50" stroke="#8c8c8c" stroke-width="1.3" />
<line x1="358.40" y1="344.50" x2="363.40" y2="344.50" stroke="#8c8c8c" stroke-width="1.3" />
<line x1="422.50" y1="328.20" x2="422.50" y2="338.80" stroke="#8c8c8c" stroke-width="1.3" />
<line x1="420.00" y1="328.20" x2="425.00" y2="328.20" stroke="#8c8c8c" stroke-width="1.3" />
<line x1="420.00" y1="338.80" x2="425.00" y2="338.80" stroke="#8c8c8c" stroke-width="1.3" />
<polyline points="299.40,363.90 330.10,359.00 360.90,338.50 422.50,333.50" fill="none" stroke="#8c8c8c" stroke-width="1.3" stroke-linejoin="round"/>
<polygon points="299.40,361.50 301.80,363.90 299.40,366.30 297.00,363.90" fill="#8c8c8c"/>
<polygon points="330.10,356.60 332.50,359.00 330.10,361.40 327.70,359.00" fill="#8c8c8c"/>
<polygon points="360.90,336.10 363.30,338.50 360.90,340.90 358.50,338.50" fill="#8c8c8c"/>
<polygon points="422.50,331.10 424.90,333.50 422.50,335.90 420.10,333.50" fill="#8c8c8c"/>
<line x1="360.90" y1="315.80" x2="360.90" y2="344.60" stroke="#4a4a4a" stroke-width="1.3" />
<line x1="358.40" y1="315.80" x2="363.40" y2="315.80" stroke="#4a4a4a" stroke-width="1.3" />
<line x1="358.40" y1="344.60" x2="363.40" y2="344.60" stroke="#4a4a4a" stroke-width="1.3" />
<line x1="422.50" y1="307.00" x2="422.50" y2="330.40" stroke="#4a4a4a" stroke-width="1.3" />
<line x1="420.00" y1="307.00" x2="425.00" y2="307.00" stroke="#4a4a4a" stroke-width="1.3" />
<line x1="420.00" y1="330.40" x2="425.00" y2="330.40" stroke="#4a4a4a" stroke-width="1.3" />
<polyline points="299.40,363.90 330.10,356.20 360.90,330.20 422.50,318.70" fill="none" stroke="#4a4a4a" stroke-width="1.3" stroke-linejoin="round"/>
<polygon points="299.40,361.59 301.71,365.79 297.09,365.79" fill="#4a4a4a"/>
<polygon points="330.10,353.89 332.41,358.09 327.79,358.09" fill="#4a4a4a"/>
<polygon points="360.90,327.89 363.21,332.09 358.59,332.09" fill="#4a4a4a"/>
<polygon points="422.50,316.39 424.81,320.59 420.19,320.59" fill="#4a4a4a"/>
<line x1="360.90" y1="307.10" x2="360.90" y2="344.90" stroke="#1e1e1e" stroke-width="1.3" />
<line x1="358.40" y1="307.10" x2="363.40" y2="307.10" stroke="#1e1e1e" stroke-width="1.3" />
<line x1="358.40" y1="344.90" x2="363.40" y2="344.90" stroke="#1e1e1e" stroke-width="1.3" />
<line x1="422.50" y1="295.50" x2="422.50" y2="325.50" stroke="#1e1e1e" stroke-width="1.3" />
<line x1="420.00" y1="295.50" x2="425.00" y2="295.50" stroke="#1e1e1e" stroke-width="1.3" />
<line x1="420.00" y1="325.50" x2="425.00" y2="325.50" stroke="#1e1e1e" stroke-width="1.3" />
<polyline points="299.40,363.90 330.10,352.30 360.90,326.00 422.50,310.50" fill="none" stroke="#1e1e1e" stroke-width="1.3" stroke-linejoin="round"/>
<circle cx="299.40" cy="363.90" r="2.40" fill="#1e1e1e"/>
<circle cx="330.10" cy="352.30" r="2.40" fill="#1e1e1e"/>
<circle cx="360.90" cy="326.00" r="2.40" fill="#1e1e1e"/>
<circle cx="422.50" cy="310.50" r="2.40" fill="#1e1e1e"/>
<line x1="330.10" y1="343.10" x2="330.10" y2="356.30" stroke="#5a5a5a" stroke-width="1.3" />
<line x1="327.60" y1="343.10" x2="332.60" y2="343.10" stroke="#5a5a5a" stroke-width="1.3" />
<line x1="327.60" y1="356.30" x2="332.60" y2="356.30" stroke="#5a5a5a" stroke-width="1.3" />
<line x1="360.90" y1="297.50" x2="360.90" y2="327.30" stroke="#5a5a5a" stroke-width="1.3" />
<line x1="358.40" y1="297.50" x2="363.40" y2="297.50" stroke="#5a5a5a" stroke-width="1.3" />
<line x1="358.40" y1="327.30" x2="363.40" y2="327.30" stroke="#5a5a5a" stroke-width="1.3" />
<line x1="422.50" y1="275.40" x2="422.50" y2="295.30" stroke="#5a5a5a" stroke-width="1.3" />
<line x1="420.00" y1="275.40" x2="425.00" y2="275.40" stroke="#5a5a5a" stroke-width="1.3" />
<line x1="420.00" y1="295.30" x2="425.00" y2="295.30" stroke="#5a5a5a" stroke-width="1.3" />
<polyline points="299.40,363.90 330.10,349.70 360.90,312.40 422.50,285.30" fill="none" stroke="#5a5a5a" stroke-width="1.3" stroke-linejoin="round"/>
<polygon points="299.40,366.21 301.71,362.01 297.09,362.01" fill="#5a5a5a"/>
<polygon points="330.10,352.01 332.41,347.81 327.79,347.81" fill="#5a5a5a"/>
<polygon points="360.90,314.71 363.21,310.51 358.59,310.51" fill="#5a5a5a"/>
<polygon points="422.50,287.61 424.81,283.41 420.19,283.41" fill="#5a5a5a"/>
<circle cx="422.40" cy="267.60" r="1.2" fill="#555"/>
<text x="431.20" y="289.20" font-size="8.8" font-weight="bold" fill="#4e4e4e" text-anchor="start" textLength="88" lengthAdjust="spacingAndGlyphs" stroke="#4e4e4e" stroke-width="0.15" >AAV2(Y-F)+Cap-CD8+PI</text>
<text x="431.20" y="313.10" font-size="8.8" font-weight="bold" fill="#151515" text-anchor="start" textLength="38.3" lengthAdjust="spacingAndGlyphs" stroke="#151515" stroke-width="0.15" >AAV2(Y-F)</text>
<text x="431.20" y="322.00" font-size="8.8" font-weight="bold" fill="#454545" text-anchor="start" textLength="77.1" lengthAdjust="spacingAndGlyphs" stroke="#454545" stroke-width="0.15" >AAV2(Y-F)+Con-CD8</text>
<text x="431.20" y="337.30" font-size="8.8" font-weight="bold" fill="#7e7e7e" text-anchor="start" textLength="76.5" lengthAdjust="spacingAndGlyphs" stroke="#7e7e7e" stroke-width="0.15" >AAV2(Y-F)+Cap-CD8</text>
<line x1="37.00" y1="404.92" x2="37.00" y2="507.80" stroke="#111" stroke-width="1.9" />
<line x1="33.80" y1="507.20" x2="37.00" y2="507.20" stroke="#111" stroke-width="1.9" />
<text x="32.60" y="510.50" font-size="9" font-weight="normal" fill="#111" text-anchor="end" textLength="4.65" lengthAdjust="spacingAndGlyphs" stroke="#111" stroke-width="0.3" >0</text>
<line x1="33.80" y1="481.78" x2="37.00" y2="481.78" stroke="#111" stroke-width="1.9" />
<text x="32.60" y="485.08" font-size="9" font-weight="normal" fill="#111" text-anchor="end" textLength="13.95" lengthAdjust="spacingAndGlyphs" stroke="#111" stroke-width="0.3" >100</text>
<line x1="33.80" y1="456.36" x2="37.00" y2="456.36" stroke="#111" stroke-width="1.9" />
<text x="32.60" y="459.66" font-size="9" font-weight="normal" fill="#111" text-anchor="end" textLength="13.95" lengthAdjust="spacingAndGlyphs" stroke="#111" stroke-width="0.3" >200</text>
<line x1="33.80" y1="430.94" x2="37.00" y2="430.94" stroke="#111" stroke-width="1.9" />
<text x="32.60" y="434.24" font-size="9" font-weight="normal" fill="#111" text-anchor="end" textLength="13.95" lengthAdjust="spacingAndGlyphs" stroke="#111" stroke-width="0.3" >300</text>
<line x1="33.80" y1="405.52" x2="37.00" y2="405.52" stroke="#111" stroke-width="1.9" />
<text x="32.60" y="408.82" font-size="9" font-weight="normal" fill="#111" text-anchor="end" textLength="13.95" lengthAdjust="spacingAndGlyphs" stroke="#111" stroke-width="0.3" >400</text>
<line x1="36.30" y1="507.20" x2="191.60" y2="507.20" stroke="#111" stroke-width="1.9" />
<line x1="37.00" y1="507.20" x2="37.00" y2="510.20" stroke="#111" stroke-width="1.9" />
<text x="37.00" y="518.20" font-size="9" font-weight="normal" fill="#111" text-anchor="middle" stroke="#111" stroke-width="0.3" >0</text>
<line x1="76.10" y1="507.20" x2="76.10" y2="510.20" stroke="#111" stroke-width="1.9" />
<text x="76.10" y="518.20" font-size="9" font-weight="normal" fill="#111" text-anchor="middle" stroke="#111" stroke-width="0.3" >1</text>
<line x1="114.10" y1="507.20" x2="114.10" y2="510.20" stroke="#111" stroke-width="1.9" />
<text x="114.10" y="518.20" font-size="9" font-weight="normal" fill="#111" text-anchor="middle" stroke="#111" stroke-width="0.3" >2</text>
<line x1="152.50" y1="507.20" x2="152.50" y2="510.20" stroke="#111" stroke-width="1.9" />
<text x="152.50" y="518.20" font-size="9" font-weight="normal" fill="#111" text-anchor="middle" stroke="#111" stroke-width="0.3" >3</text>
<line x1="190.90" y1="507.20" x2="190.90" y2="510.20" stroke="#111" stroke-width="1.9" />
<text x="190.90" y="518.20" font-size="9" font-weight="normal" fill="#111" text-anchor="middle" stroke="#111" stroke-width="0.3" >4</text>
<text x="112.30" y="530.20" font-size="8.4" font-weight="bold" fill="#111" text-anchor="middle" textLength="23.7" lengthAdjust="spacingAndGlyphs" stroke="#111" stroke-width="0.12" >weeks</text>
<text x="0" y="0" font-size="7.6" font-weight="bold" fill="#111" text-anchor="middle" textLength="44.0" lengthAdjust="spacingAndGlyphs" transform="translate(7.00,453.30) rotate(-90)">hFIX ng/ml</text>
<text x="54.80" y="411.80" font-size="9" font-weight="bold" fill="#111" text-anchor="start" textLength="91.4" lengthAdjust="spacingAndGlyphs" stroke="#111" stroke-width="0.15" >AAV2(Y-F)+Cap-CD8</text>
<line x1="76.10" y1="488.00" x2="76.10" y2="496.50" stroke="#555" stroke-width="2.0" />
<line x1="73.35" y1="488.00" x2="78.85" y2="488.00" stroke="#555" stroke-width="2.0" />
<line x1="73.35" y1="496.50" x2="78.85" y2="496.50" stroke="#555" stroke-width="2.0" />
<line x1="114.10" y1="476.70" x2="114.10" y2="487.30" stroke="#555" stroke-width="2.0" />
<line x1="111.35" y1="476.70" x2="116.85" y2="476.70" stroke="#555" stroke-width="2.0" />
<line x1="111.35" y1="487.30" x2="116.85" y2="487.30" stroke="#555" stroke-width="2.0" />
<line x1="152.50" y1="443.80" x2="152.50" y2="463.90" stroke="#555" stroke-width="2.0" />
<line x1="149.75" y1="443.80" x2="155.25" y2="443.80" stroke="#555" stroke-width="2.0" />
<line x1="149.75" y1="463.90" x2="155.25" y2="463.90" stroke="#555" stroke-width="2.0" />
<line x1="190.90" y1="450.20" x2="190.90" y2="469.40" stroke="#555" stroke-width="2.0" />
<line x1="188.15" y1="450.20" x2="193.65" y2="450.20" stroke="#555" stroke-width="2.0" />
<line x1="188.15" y1="469.40" x2="193.65" y2="469.40" stroke="#555" stroke-width="2.0" />
<polyline points="37.00,507.20 76.10,492.00 114.10,482.20 152.50,451.50 190.90,458.00" fill="none" stroke="#555" stroke-width="2.0" stroke-linejoin="round"/>
<polygon points="37.00,509.95 39.75,504.95 34.25,504.95" fill="#555"/>
<polygon points="76.10,494.75 78.85,489.75 73.35,489.75" fill="#555"/>
<polygon points="114.10,484.95 116.85,479.95 111.35,479.95" fill="#555"/>
<polygon points="152.50,454.25 155.25,449.25 149.75,449.25" fill="#555"/>
<polygon points="190.90,460.75 193.65,455.75 188.15,455.75" fill="#555"/>
<line x1="76.10" y1="484.00" x2="76.10" y2="493.00" stroke="#777777" stroke-width="2.0" />
<line x1="73.35" y1="484.00" x2="78.85" y2="484.00" stroke="#777777" stroke-width="2.0" />
<line x1="73.35" y1="493.00" x2="78.85" y2="493.00" stroke="#777777" stroke-width="2.0" />
<line x1="114.10" y1="463.00" x2="114.10" y2="476.00" stroke="#777777" stroke-width="2.0" />
<line x1="111.35" y1="463.00" x2="116.85" y2="463.00" stroke="#777777" stroke-width="2.0" />
<line x1="111.35" y1="476.00" x2="116.85" y2="476.00" stroke="#777777" stroke-width="2.0" />
<line x1="152.50" y1="446.00" x2="152.50" y2="463.00" stroke="#777777" stroke-width="2.0" />
<line x1="149.75" y1="446.00" x2="155.25" y2="446.00" stroke="#777777" stroke-width="2.0" />
<line x1="149.75" y1="463.00" x2="155.25" y2="463.00" stroke="#777777" stroke-width="2.0" />
<line x1="190.90" y1="446.00" x2="190.90" y2="469.40" stroke="#777777" stroke-width="2.0" />
<line x1="188.15" y1="446.00" x2="193.65" y2="446.00" stroke="#777777" stroke-width="2.0" />
<line x1="188.15" y1="469.40" x2="193.65" y2="469.40" stroke="#777777" stroke-width="2.0" />
<polyline points="37.00,507.20 76.10,488.50 114.10,469.50 152.50,453.00 190.90,457.20" fill="none" stroke="#777777" stroke-width="2.0" stroke-linejoin="round"/>
<polygon points="37.00,504.45 39.75,509.45 34.25,509.45" fill="#777777"/>
<polygon points="76.10,485.75 78.85,490.75 73.35,490.75" fill="#777777"/>
<polygon points="114.10,466.75 116.85,471.75 111.35,471.75" fill="#777777"/>
<polygon points="152.50,450.25 155.25,455.25 149.75,455.25" fill="#777777"/>
<polygon points="190.90,454.45 193.65,459.45 188.15,459.45" fill="#777777"/>
<line x1="76.10" y1="476.60" x2="76.10" y2="484.50" stroke="#8c8c8c" stroke-width="2.0" />
<line x1="73.35" y1="476.60" x2="78.85" y2="476.60" stroke="#8c8c8c" stroke-width="2.0" />
<line x1="73.35" y1="484.50" x2="78.85" y2="484.50" stroke="#8c8c8c" stroke-width="2.0" />
<line x1="114.10" y1="476.70" x2="114.10" y2="483.00" stroke="#8c8c8c" stroke-width="2.0" />
<line x1="111.35" y1="476.70" x2="116.85" y2="476.70" stroke="#8c8c8c" stroke-width="2.0" />
<line x1="111.35" y1="483.00" x2="116.85" y2="483.00" stroke="#8c8c8c" stroke-width="2.0" />
<line x1="152.50" y1="466.60" x2="152.50" y2="478.50" stroke="#8c8c8c" stroke-width="2.0" />
<line x1="149.75" y1="466.60" x2="155.25" y2="466.60" stroke="#8c8c8c" stroke-width="2.0" />
<line x1="149.75" y1="478.50" x2="155.25" y2="478.50" stroke="#8c8c8c" stroke-width="2.0" />
<line x1="190.90" y1="430.00" x2="190.90" y2="446.00" stroke="#8c8c8c" stroke-width="2.0" />
<line x1="188.15" y1="430.00" x2="193.65" y2="430.00" stroke="#8c8c8c" stroke-width="2.0" />
<line x1="188.15" y1="446.00" x2="193.65" y2="446.00" stroke="#8c8c8c" stroke-width="2.0" />
<polyline points="37.00,507.20 76.10,480.40 114.10,479.40 152.50,474.80 190.90,439.20" fill="none" stroke="#8c8c8c" stroke-width="2.0" stroke-linejoin="round"/>
<rect x="34.70" y="504.90" width="4.60" height="4.60" fill="#8c8c8c"/>
<rect x="73.80" y="478.10" width="4.60" height="4.60" fill="#8c8c8c"/>
<rect x="111.80" y="477.10" width="4.60" height="4.60" fill="#8c8c8c"/>
<rect x="150.20" y="472.50" width="4.60" height="4.60" fill="#8c8c8c"/>
<rect x="188.60" y="436.90" width="4.60" height="4.60" fill="#8c8c8c"/>
<line x1="76.10" y1="476.60" x2="76.10" y2="496.50" stroke="#6a6a6a" stroke-width="2.0" />
<line x1="73.35" y1="476.60" x2="78.85" y2="476.60" stroke="#6a6a6a" stroke-width="2.0" />
<line x1="73.35" y1="496.50" x2="78.85" y2="496.50" stroke="#6a6a6a" stroke-width="2.0" />
<line x1="114.10" y1="460.60" x2="114.10" y2="487.30" stroke="#6a6a6a" stroke-width="2.0" />
<line x1="111.35" y1="460.60" x2="116.85" y2="460.60" stroke="#6a6a6a" stroke-width="2.0" />
<line x1="111.35" y1="487.30" x2="116.85" y2="487.30" stroke="#6a6a6a" stroke-width="2.0" />
<line x1="152.50" y1="436.10" x2="152.50" y2="466.60" stroke="#6a6a6a" stroke-width="2.0" />
<line x1="149.75" y1="436.10" x2="155.25" y2="436.10" stroke="#6a6a6a" stroke-width="2.0" />
<line x1="149.75" y1="466.60" x2="155.25" y2="466.60" stroke="#6a6a6a" stroke-width="2.0" />
<line x1="190.90" y1="446.00" x2="190.90" y2="475.20" stroke="#6a6a6a" stroke-width="2.0" />
<line x1="188.15" y1="446.00" x2="193.65" y2="446.00" stroke="#6a6a6a" stroke-width="2.0" />
<line x1="188.15" y1="475.20" x2="193.65" y2="475.20" stroke="#6a6a6a" stroke-width="2.0" />
<polyline points="37.00,507.20 76.10,484.40 114.10,468.40 152.50,452.00 190.90,458.40" fill="none" stroke="#6a6a6a" stroke-width="2.0" stroke-linejoin="round"/>
<circle cx="37.00" cy="507.20" r="2.50" fill="#6a6a6a"/>
<circle cx="76.10" cy="484.40" r="2.50" fill="#6a6a6a"/>
<circle cx="114.10" cy="468.40" r="2.50" fill="#6a6a6a"/>
<circle cx="152.50" cy="452.00" r="2.50" fill="#6a6a6a"/>
<circle cx="190.90" cy="458.40" r="2.50" fill="#6a6a6a"/>
<line x1="203.60" y1="442.20" x2="216.90" y2="442.20" stroke="#6a6a6a" stroke-width="2.3" />
<circle cx="210.60" cy="442.20" r="2.50" fill="#6a6a6a"/>
<text x="220.90" y="445.70" font-size="10.3" font-weight="normal" fill="#111" text-anchor="start" textLength="31.0" lengthAdjust="spacingAndGlyphs" stroke="#111" stroke-width="0.15" >control</text>
<line x1="203.60" y1="457.30" x2="216.90" y2="457.30" stroke="#8c8c8c" stroke-width="2.3" />
<rect x="208.10" y="454.80" width="5.00" height="5.00" fill="#8c8c8c"/>
<text x="220.90" y="460.80" font-size="10.3" font-weight="normal" fill="#111" text-anchor="start" textLength="17.4" lengthAdjust="spacingAndGlyphs" stroke="#111" stroke-width="0.15" >d14</text>
<line x1="203.60" y1="472.40" x2="216.90" y2="472.40" stroke="#777777" stroke-width="2.3" />
<polygon points="210.60,469.65 213.35,474.65 207.85,474.65" fill="#777777"/>
<text x="220.90" y="475.90" font-size="10.3" font-weight="normal" fill="#111" text-anchor="start" textLength="11.0" lengthAdjust="spacingAndGlyphs" stroke="#111" stroke-width="0.15" >d7</text>
<line x1="203.60" y1="487.40" x2="216.90" y2="487.40" stroke="#555" stroke-width="2.3" />
<polygon points="210.60,490.15 213.35,485.15 207.85,485.15" fill="#555"/>
<text x="220.90" y="490.90" font-size="10.3" font-weight="normal" fill="#111" text-anchor="start" textLength="10.8" lengthAdjust="spacingAndGlyphs" stroke="#111" stroke-width="0.15" >d1</text>
<text x="35.00" y="11.00" font-size="8.6" font-weight="normal" fill="#1a1a1a" text-anchor="start" textLength="17.6" lengthAdjust="spacingAndGlyphs" stroke="#1a1a1a" stroke-width="0.3" >1x10</text>
<text x="53.00" y="8.00" font-size="5.6" font-weight="normal" fill="#1a1a1a" text-anchor="start" textLength="5.4" lengthAdjust="spacingAndGlyphs" stroke="#1a1a1a" stroke-width="0.3" >11</text>
<text x="64.40" y="11.00" font-size="8.6" font-weight="normal" fill="#1a1a1a" text-anchor="start" textLength="10.0" lengthAdjust="spacingAndGlyphs" stroke="#1a1a1a" stroke-width="0.3" >vg</text>
<text x="35.00" y="22.20" font-size="8.6" font-weight="normal" fill="#1a1a1a" text-anchor="start" textLength="34.3" lengthAdjust="spacingAndGlyphs" stroke="#1a1a1a" stroke-width="0.3" >AAV-FIX</text>
<text x="93.80" y="17.30" font-size="9.8" font-weight="normal" fill="#1a1a1a" text-anchor="start" textLength="19.0" lengthAdjust="spacingAndGlyphs" stroke="#1a1a1a" stroke-width="0.3" >2x10</text>
<text x="113.40" y="13.60" font-size="5.8" font-weight="normal" fill="#1a1a1a" text-anchor="start" textLength="3.3" lengthAdjust="spacingAndGlyphs" stroke="#1a1a1a" stroke-width="0.3" >6</text>
<text x="119.40" y="17.30" font-size="9.8" font-weight="normal" fill="#1a1a1a" text-anchor="start" textLength="53.0" lengthAdjust="spacingAndGlyphs" stroke="#1a1a1a" stroke-width="0.3" >CD8+ T cells</text>
<text x="115.40" y="83.80" font-size="8.8" font-weight="normal" fill="#1a1a1a" text-anchor="start" textLength="26.0" lengthAdjust="spacingAndGlyphs" stroke="#1a1a1a" stroke-width="0.3" >24 hrs</text>
<text x="67.00" y="92.90" font-size="8.9" font-weight="normal" fill="#1a1a1a" text-anchor="start" textLength="31.6" lengthAdjust="spacingAndGlyphs" stroke="#1a1a1a" stroke-width="0.3" >RAG -/-</text>
<text x="181.00" y="52.30" font-size="8.5" font-weight="normal" fill="#1a1a1a" text-anchor="start" textLength="67.2" lengthAdjust="spacingAndGlyphs" stroke="#1a1a1a" stroke-width="0.3" >LPS (day 0, 1, 2)</text>
<text x="216.30" y="85.40" font-size="9.8" font-weight="normal" fill="#1a1a1a" text-anchor="start" textLength="32.0" lengthAdjust="spacingAndGlyphs" stroke="#1a1a1a" stroke-width="0.3" >Day 14:</text>
<text x="216.30" y="96.20" font-size="9.8" font-weight="normal" fill="#1a1a1a" text-anchor="start" textLength="23.8" lengthAdjust="spacingAndGlyphs" stroke="#1a1a1a" stroke-width="0.3" >bleed</text>
<text x="280.10" y="15.40" font-size="9.8" font-weight="normal" fill="#1a1a1a" text-anchor="start" textLength="91.3" lengthAdjust="spacingAndGlyphs" stroke="#1a1a1a" stroke-width="0.3" >Day 7: bleed for ALT/</text>
<text x="280.10" y="27.10" font-size="9.8" font-weight="normal" fill="#1a1a1a" text-anchor="start" textLength="75.8" lengthAdjust="spacingAndGlyphs" stroke="#1a1a1a" stroke-width="0.3" >AST, collect livers</text>
<text x="285.10" y="79.80" font-size="9.8" font-weight="normal" fill="#1a1a1a" text-anchor="start" textLength="92.7" lengthAdjust="spacingAndGlyphs" stroke="#1a1a1a" stroke-width="0.3" >Day 28: bleed, collect</text>
<text x="285.10" y="91.40" font-size="9.8" font-weight="normal" fill="#1a1a1a" text-anchor="start" textLength="22.5" lengthAdjust="spacingAndGlyphs" stroke="#1a1a1a" stroke-width="0.3" >livers</text>
<polygon points="45.2,26.4 51.5,29.5 51.5,35.3 45.2,38.5 38.9,35.3 38.9,29.5" fill="#111" stroke="#111" stroke-width="0.8" stroke-linejoin="round"/>
<polygon points="40.6,29.8 43.6,29.8 42.1,32.1" fill="#ffffff"/>
<polygon points="46.8,29.8 49.8,29.8 48.3,32.1" fill="#ffffff"/>
<polygon points="45.2,30.6 46.9,33.4 43.5,33.4" fill="#ffffff"/>
<polygon points="43.8,34.3 46.6,34.3 45.2,36.8" fill="#ffffff"/>
<circle cx="40.4" cy="33.4" r="0.55" fill="#999"/><circle cx="50.0" cy="33.4" r="0.55" fill="#999"/>
<ellipse cx="24.41" cy="31.52" rx="1.3" ry="2.2" transform="rotate(46.2 24.41 31.52)" fill="#f4f4f4" stroke="#444" stroke-width="1.1"/>
<line x1="25.24" y1="32.38" x2="31.13" y2="38.51" stroke="#111" stroke-width="1.4" />
<line x1="32.93" y1="36.78" x2="29.32" y2="40.24" stroke="#4a4a4a" stroke-width="2.0" stroke-linecap="round"/>
<line x1="31.47" y1="38.87" x2="52.25" y2="60.51" stroke="#111" stroke-width="3.8" stroke-linecap="round"/>
<line x1="32.37" y1="40.09" x2="50.18" y2="58.35" stroke="#5a5a5a" stroke-width="0.8" />
<line x1="52.25" y1="60.51" x2="55.79" y2="64.19" stroke="#222" stroke-width="0.8" />
<ellipse cx="123.38" cy="26.74" rx="1.3" ry="2.2" transform="rotate(53.9 123.38 26.74)" fill="#f4f4f4" stroke="#444" stroke-width="1.1"/>
<line x1="124.08" y1="27.71" x2="128.86" y2="34.25" stroke="#111" stroke-width="1.4" />
<line x1="130.88" y1="32.78" x2="126.84" y2="35.73" stroke="#4a4a4a" stroke-width="2.0" stroke-linecap="round"/>
<line x1="129.16" y1="34.66" x2="145.73" y2="57.35" stroke="#111" stroke-width="3.8" stroke-linecap="round"/>
<line x1="129.88" y1="35.99" x2="143.96" y2="54.92" stroke="#5a5a5a" stroke-width="0.8" />
<line x1="145.73" y1="57.35" x2="148.27" y2="60.82" stroke="#222" stroke-width="0.8" />
<circle cx="151.3" cy="28.5" r="7.3" fill="#d4d4d4"/>
<circle cx="151.8" cy="28.9" r="6.4" fill="#e8e8e8"/>
<circle cx="152.3" cy="29.4" r="5.2" fill="#0e0e0e"/>
<circle cx="152.2" cy="29.2" r="3.4" fill="#242424"/>
<g>
<path d="M61.0,75.0 C59.8,71.5 56.0,69.0 55.6,65.8 C55.8,63.2 59.5,62.1 63.5,62.6 C65.8,63.0 67.6,63.6 68.9,64.4" fill="none" stroke="#111" stroke-width="2.6" stroke-linecap="round"/>
<path d="M68.8,64.4 C69.4,59.2 73.8,55.0 80.6,54.4 C85.6,54.1 89.4,56.6 91.5,59.4 C92.6,60.1 93.8,60.4 95.2,60.5" fill="none" stroke="#111" stroke-width="1.8" stroke-linecap="round"/>
<path d="M94.8,60.7 L97.4,56.7 L99.1,61.6 Z" fill="#111" stroke="#111" stroke-width="1.0" stroke-linejoin="round"/>
<path d="M98.7,61.3 C100.8,63.2 102.6,66.0 103.2,68.8 C103.2,70.2 102.0,70.6 100.1,70.7 L94.6,71.5" fill="none" stroke="#111" stroke-width="1.8" stroke-linecap="round" stroke-linejoin="round"/>
<path d="M69.0,65.8 C71.0,67.8 73.5,70.3 76.9,72.4" fill="none" stroke="#111" stroke-width="1.8" stroke-linecap="round"/>
<path d="M76.4,72.0 C78.4,70.5 82.0,70.7 83.1,71.9 C83.2,74.0 81.6,75.7 79.0,75.7 C77.4,75.5 76.4,74.2 76.4,72.0 Z" fill="#111"/>
<path d="M82.8,71.6 C85.0,72.0 87.2,72.9 89.2,74.6" fill="none" stroke="#111" stroke-width="1.8" stroke-linecap="round"/>
<ellipse cx="91.4" cy="63.3" rx="1.5" ry="2.6" transform="rotate(-15 91.4 63.3)" fill="#fff" stroke="#111" stroke-width="1.4"/>
<ellipse cx="98.4" cy="66.8" rx="1.25" ry="0.95" fill="#111"/>
<ellipse cx="91.3" cy="77.2" rx="2.2" ry="1.5" fill="#111"/>
<ellipse cx="96.8" cy="75.0" rx="2.8" ry="1.5" transform="rotate(15 96.8 75.0)" fill="#111"/>
<ellipse cx="91.8" cy="74.2" rx="1.9" ry="1.5" fill="#fff" stroke="#111" stroke-width="1.5"/>
</g>
<g transform="translate(96.3,-1.0) scale(0.94,0.98)">
<path d="M61.0,75.0 C59.8,71.5 56.0,69.0 55.6,65.8 C55.8,63.2 59.5,62.1 63.5,62.6 C65.8,63.0 67.6,63.6 68.9,64.4" fill="none" stroke="#111" stroke-width="2.6" stroke-linecap="round"/>
<path d="M68.8,64.4 C69.4,59.2 73.8,55.0 80.6,54.4 C85.6,54.1 89.4,56.6 91.5,59.4 C92.6,60.1 93.8,60.4 95.2,60.5" fill="none" stroke="#111" stroke-width="1.8" stroke-linecap="round"/>
<path d="M94.8,60.7 L97.4,56.7 L99.1,61.6 Z" fill="#111" stroke="#111" stroke-width="1.0" stroke-linejoin="round"/>
<path d="M98.7,61.3 C100.8,63.2 102.6,66.0 103.2,68.8 C103.2,70.2 102.0,70.6 100.1,70.7 L94.6,71.5" fill="none" stroke="#111" stroke-width="1.8" stroke-linecap="round" stroke-linejoin="round"/>
<path d="M69.0,65.8 C71.0,67.8 73.5,70.3 76.9,72.4" fill="none" stroke="#111" stroke-width="1.8" stroke-linecap="round"/>
<path d="M76.4,72.0 C78.4,70.5 82.0,70.7 83.1,71.9 C83.2,74.0 81.6,75.7 79.0,75.7 C77.4,75.5 76.4,74.2 76.4,72.0 Z" fill="#111"/>
<path d="M82.8,71.6 C85.0,72.0 87.2,72.9 89.2,74.6" fill="none" stroke="#111" stroke-width="1.8" stroke-linecap="round"/>
<ellipse cx="91.4" cy="63.3" rx="1.5" ry="2.6" transform="rotate(-15 91.4 63.3)" fill="#fff" stroke="#111" stroke-width="1.4"/>
<ellipse cx="98.4" cy="66.8" rx="1.25" ry="0.95" fill="#111"/>
<ellipse cx="91.3" cy="77.2" rx="2.2" ry="1.5" fill="#111"/>
<ellipse cx="96.8" cy="75.0" rx="2.8" ry="1.5" transform="rotate(15 96.8 75.0)" fill="#111"/>
<ellipse cx="91.8" cy="74.2" rx="1.9" ry="1.5" fill="#fff" stroke="#111" stroke-width="1.5"/>
</g>
<defs><linearGradient id="ag" x1="0" y1="0" x2="0" y2="1"><stop offset="0" stop-color="#5a5a5a"/><stop offset="0.5" stop-color="#8e8e8e"/><stop offset="1" stop-color="#5a5a5a"/></linearGradient></defs>
<g transform="translate(106.00,66.80) rotate(0.00)"><polygon points="4.40,-2.65 27.70,-2.65 27.70,-4.75 37.70,0.00 27.70,4.75 27.70,2.65 4.40,2.65" fill="url(#ag)" stroke="#262626" stroke-width="0.9" stroke-linejoin="miter"/><rect x="0" y="-2.65" width="2.2" height="5.30" fill="#161616"/><rect x="2.85" y="-2.20" width="1.3" height="4.40" fill="#888" stroke="#222" stroke-width="0.9"/></g>
<g transform="translate(197.80,66.70) rotate(0.00)"><polygon points="7.20,-2.40 35.30,-2.40 35.30,-4.00 46.40,0.00 35.30,4.00 35.30,2.40 7.20,2.40" fill="url(#ag)" stroke="#262626" stroke-width="0.9" stroke-linejoin="miter"/><rect x="0.45" y="-1.95" width="1.60" height="3.90" fill="#9a9a9a" stroke="#161616" stroke-width="0.9"/><rect x="3.85" y="-1.95" width="1.70" height="3.90" fill="#9a9a9a" stroke="#161616" stroke-width="0.9"/></g>
<g transform="translate(247.60,60.90) rotate(-47.90)"><polygon points="0.00,-3.15 26.60,-3.15 26.60,-6.30 36.20,0.00 26.60,6.30 26.60,3.15 0.00,3.15" fill="url(#ag)" stroke="#262626" stroke-width="0.9" stroke-linejoin="miter"/><rect x="0" y="-3.15" width="1.6" height="6.30" fill="#1e1e1e"/><rect x="2.4" y="-3.15" width="0.7" height="6.30" fill="#333"/><rect x="3.8" y="-3.15" width="0.7" height="6.30" fill="#444"/></g>
<g transform="translate(245.50,67.50) rotate(34.40)"><polygon points="0.00,-3.15 26.50,-3.15 26.50,-6.50 35.50,0.00 26.50,6.50 26.50,3.15 0.00,3.15" fill="url(#ag)" stroke="#262626" stroke-width="0.9" stroke-linejoin="miter"/><rect x="0" y="-3.15" width="1.6" height="6.30" fill="#1e1e1e"/><rect x="2.4" y="-3.15" width="0.7" height="6.30" fill="#333"/><rect x="3.8" y="-3.15" width="0.7" height="6.30" fill="#444"/></g>
</svg></body></html>
